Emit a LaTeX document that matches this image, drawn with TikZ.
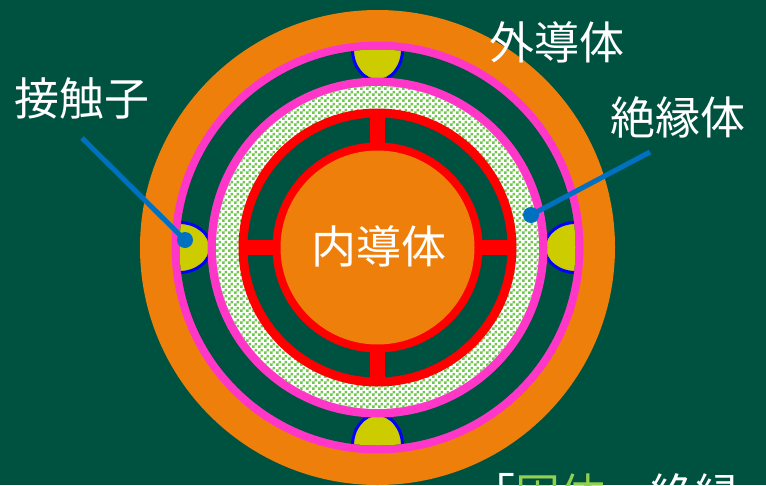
\documentclass[tikz,border=0pt]{standalone}
\usepackage{fontspec}
\newfontfamily\jp{Noto Sans CJK JP}
\usetikzlibrary{patterns}

\definecolor{board}{RGB}{0,82,64}
\definecolor{conductor}{RGB}{238,127,10}
\definecolor{shieldpink}{RGB}{255,55,200}
\definecolor{contactyellow}{RGB}{204,204,0}
\definecolor{contactedge}{RGB}{0,0,255}
\definecolor{leaderblue}{RGB}{0,112,192}
\definecolor{insgreen}{RGB}{112,200,78}
\definecolor{textgreen}{RGB}{146,208,80}

% small checkerboard used for the dielectric layer
\pgfdeclarepatternformonly{finechecker}{\pgfpointorigin}{\pgfpoint{6pt}{6pt}}{\pgfpoint{6pt}{6pt}}{%
  \pgfpathrectangle{\pgfpointorigin}{\pgfpoint{3pt}{3pt}}%
  \pgfpathrectangle{\pgfpoint{3pt}{3pt}}{\pgfpoint{3pt}{3pt}}%
  \pgfusepath{fill}}

\begin{document}
\begin{tikzpicture}[x=1pt,y=-1pt,
  jtext/.style={font=\jp\fontsize{45pt}{45pt}\selectfont, text=white, inner sep=0pt},
  leader/.style={draw=leaderblue, line width=5pt},
  leaderdot/.style={fill=leaderblue},
  contact/.style={fill=contactyellow, draw=contactedge, line width=3pt},
  spoke/.style={fill=red}]

  % canvas
  \fill[board] (0,0) rectangle (766,485);
  \useasboundingbox (0,0) rectangle (766,485);

  \coordinate (c) at (377.5,247.5);

  % outer conductor with its pink inner lining
  \fill[conductor] (c) circle[radius=237.5pt];
  \fill[shieldpink] (c) circle[radius=206pt];
  \fill[board] (c) circle[radius=198pt];

  % four contact fingers in the gap
  \path (c) ++(0,-198) coordinate (ctop)
        (c) ++(0,198) coordinate (cbottom)
        (c) ++(-198,0) coordinate (cleft)
        (c) ++(198,0) coordinate (cright);
  \begin{scope}
    \clip (c) circle[radius=198pt];
    \filldraw[contact] (ctop) ellipse[x radius=25pt, y radius=31pt];
    \filldraw[contact] (cbottom) ellipse[x radius=25pt, y radius=31pt];
    \filldraw[contact] (cleft) ellipse[x radius=31pt, y radius=25pt];
    \filldraw[contact] (cright) ellipse[x radius=31pt, y radius=25pt];
  \end{scope}

  % insulator with pink outer skin
  \fill[shieldpink] (c) circle[radius=170pt];
  \fill[white] (c) circle[radius=161.5pt];
  \fill[pattern=finechecker, pattern color=insgreen] (c) circle[radius=161.5pt];

  % red support ring, spokes and inner ring
  \fill[red] (c) circle[radius=139pt];
  \fill[board] (c) circle[radius=130pt];
  \fill[spoke] (c) ++(-7.5,-132) rectangle ++(15,264);
  \fill[spoke] (c) ++(-132,-7.5) rectangle ++(264,15);
  \fill[red] (c) circle[radius=105pt];
  \fill[conductor] (c) circle[radius=97pt];

  % labels
  \node[jtext] (inner) at (379,246) {内導体};
  \node[jtext] (outer) at (557,42) {外導体};
  \node[jtext] (ins) at (678,117) {絶縁体};
  \node[jtext] (cont) at (82,98) {接触子};
  \node[jtext, anchor=west] (solid) at (470,494)
    {「\textcolor{textgreen}{固体}」絶縁};

  % leader lines
  \coordinate (contTail) at (82,138);
  \coordinate (contTip) at (185,240);
  \coordinate (insTail) at (650,152);
  \coordinate (insTip) at (531,215);
  \draw[leader] (contTail) -- (contTip);
  \fill[leaderdot] (contTip) circle[radius=8pt];
  \draw[leader] (insTail) -- (insTip);
  \fill[leaderdot] (insTip) circle[radius=8pt];
\end{tikzpicture}
\end{document}
